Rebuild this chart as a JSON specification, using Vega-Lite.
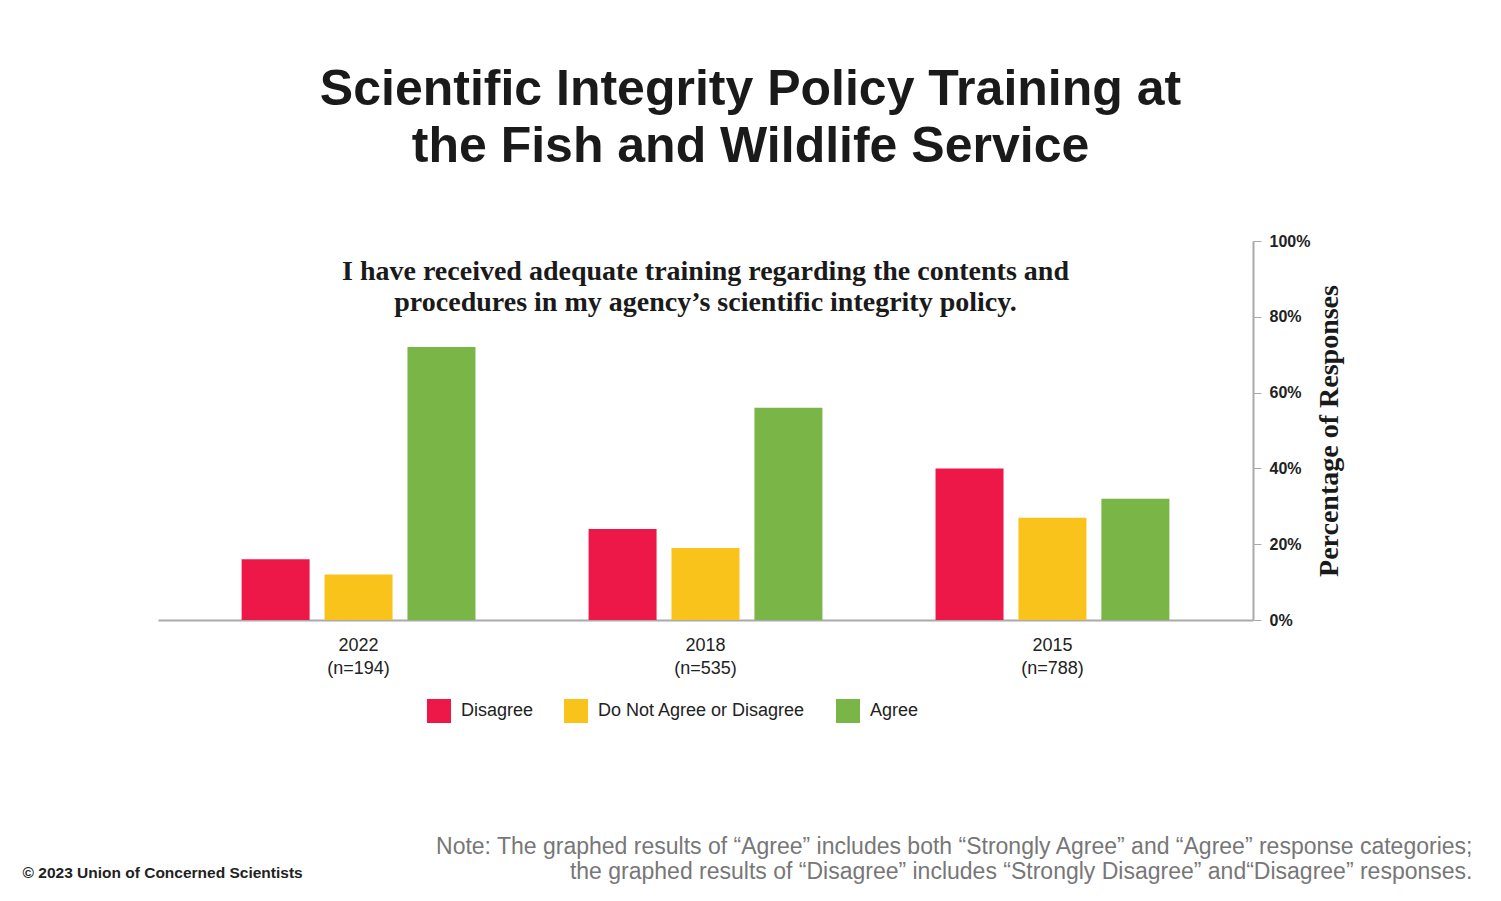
{
  "$schema": "https://vega.github.io/schema/vega-lite/v6.json",
  "width": 1095,
  "height": 379,
  "autosize": {"type": "none"},
  "padding": {"left": 158, "top": 241, "right": 248, "bottom": 281},
  "background": "white",
  "config": {"view": {"stroke": null}},
  "title": {
    "text": ["Scientific Integrity Policy Training at", "the Fish and Wildlife Service"],
    "font": "Liberation Sans",
    "fontWeight": "bold",
    "fontSize": 50,
    "lineHeight": 57,
    "color": "#1a1a1a",
    "anchor": "middle",
    "frame": "group",
    "dx": 45,
    "offset": 61
  },
  "datasets": {
    "bars": [
      {"year": "2022", "n": "(n=194)", "response": "Disagree", "pct": 0.16},
      {"year": "2022", "n": "(n=194)", "response": "Do Not Agree or Disagree", "pct": 0.12},
      {"year": "2022", "n": "(n=194)", "response": "Agree", "pct": 0.72},
      {"year": "2018", "n": "(n=535)", "response": "Disagree", "pct": 0.24},
      {"year": "2018", "n": "(n=535)", "response": "Do Not Agree or Disagree", "pct": 0.19},
      {"year": "2018", "n": "(n=535)", "response": "Agree", "pct": 0.56},
      {"year": "2015", "n": "(n=788)", "response": "Disagree", "pct": 0.40},
      {"year": "2015", "n": "(n=788)", "response": "Do Not Agree or Disagree", "pct": 0.27},
      {"year": "2015", "n": "(n=788)", "response": "Agree", "pct": 0.32}
    ]
  },
  "layer": [
    {
      "data": {"name": "bars"},
      "mark": {"type": "bar"},
      "encoding": {
        "x": {
          "field": "year",
          "type": "nominal",
          "sort": ["2022", "2018", "2015"],
          "scale": {"paddingInner": 0.326, "paddingOuter": 0.241},
          "axis": {
            "title": null,
            "labelExpr": "[datum.value, datum.value == '2022' ? '(n=194)' : datum.value == '2018' ? '(n=535)' : '(n=788)']",
            "labelAngle": 0,
            "labelFont": "Liberation Sans",
            "labelFontSize": 18,
            "labelColor": "#222222",
            "labelLineHeight": 23,
            "labelPadding": 16,
            "ticks": false,
            "domainColor": "#aaaaaa",
            "domainWidth": 2
          }
        },
        "xOffset": {
          "field": "response",
          "type": "nominal",
          "sort": ["Disagree", "Do Not Agree or Disagree", "Agree"],
          "scale": {"paddingInner": 0.18, "paddingOuter": 0}
        },
        "y": {
          "field": "pct",
          "type": "quantitative",
          "scale": {"domain": [0, 1]},
          "axis": {
            "orient": "right",
            "format": ".0%",
            "values": [0, 0.2, 0.4, 0.6, 0.8, 1],
            "title": "Percentage of Responses",
            "titleAngle": 270,
            "titleFont": "Liberation Serif",
            "titleFontWeight": "bold",
            "titleFontSize": 28,
            "titleColor": "#1a1a1a",
            "titlePadding": 34,
            "labelFont": "Liberation Sans",
            "labelFontWeight": "bold",
            "labelFontSize": 16,
            "labelColor": "#222222",
            "labelPadding": 8,
            "tickColor": "#aaaaaa",
            "tickSize": 8,
            "domainColor": "#aaaaaa",
            "domainWidth": 2,
            "grid": false
          }
        },
        "color": {
          "field": "response",
          "type": "nominal",
          "sort": ["Disagree", "Do Not Agree or Disagree", "Agree"],
          "scale": {
            "domain": ["Disagree", "Do Not Agree or Disagree", "Agree"],
            "range": ["#EE1848", "#F9C31B", "#79B547"]
          },
          "legend": {
            "title": null,
            "orient": "none",
            "direction": "horizontal",
            "columns": 3,
            "legendX": 269,
            "legendY": 458,
            "symbolType": "square",
            "symbolSize": 576,
            "symbolStrokeWidth": 0,
            "symbolOpacity": 1,
            "labelFont": "Liberation Sans",
            "labelFontSize": 18,
            "labelColor": "#222222",
            "labelOffset": 10,
            "columnPadding": 30,
            "labelLimit": 400
          }
        }
      }
    },
    {
      "data": {"values": [{"note": "I have received adequate training regarding the contents and\nprocedures in my agency\u2019s scientific integrity policy."}]},
      "mark": {
        "type": "text",
        "font": "Liberation Serif",
        "fontWeight": "bold",
        "fontSize": 28,
        "lineBreak": "\n",
        "lineHeight": 31,
        "align": "center",
        "baseline": "middle",
        "color": "#1a1a1a"
      },
      "encoding": {
        "x": {"datum": "2018", "type": "nominal"},
        "y": {"datum": 0.918, "type": "quantitative"},
        "text": {"field": "note"}
      }
    },
    {
      "data": {"values": [{"note": "Note: The graphed results of \u201cAgree\u201d includes both \u201cStrongly Agree\u201d and \u201cAgree\u201d response categories;\nthe graphed results of \u201cDisagree\u201d includes \u201cStrongly Disagree\u201d and\u201cDisagree\u201d responses."}]},
      "mark": {
        "type": "text",
        "font": "Liberation Sans",
        "fontSize": 23,
        "lineBreak": "\n",
        "lineHeight": 25,
        "align": "right",
        "baseline": "middle",
        "color": "#777777",
        "dx": 420,
        "clip": false
      },
      "encoding": {
        "x": {"datum": "2015", "type": "nominal"},
        "y": {"datum": -0.6, "type": "quantitative"},
        "text": {"field": "note"}
      }
    },
    {
      "data": {"values": [{"note": "\u00a9 2023 Union of Concerned Scientists"}]},
      "mark": {
        "type": "text",
        "font": "Liberation Sans",
        "fontWeight": "bold",
        "fontSize": 15.5,
        "align": "left",
        "baseline": "middle",
        "color": "#222222",
        "dx": -336,
        "clip": false
      },
      "encoding": {
        "x": {"datum": "2022", "type": "nominal"},
        "y": {"datum": -0.667, "type": "quantitative"},
        "text": {"field": "note"}
      }
    }
  ]
}
